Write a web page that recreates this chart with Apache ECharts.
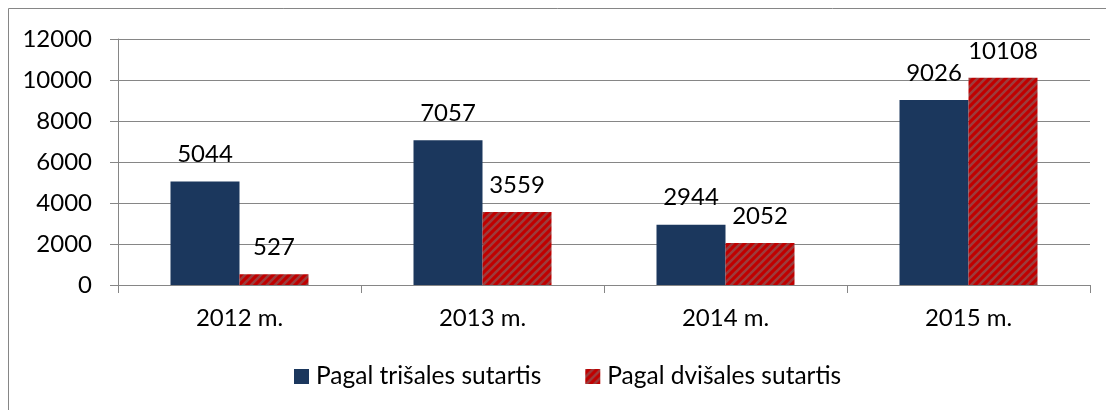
<!DOCTYPE html>
<html>
<head>
<meta charset="utf-8">
<script src="https://cdn.jsdelivr.net/npm/echarts@6/dist/echarts.min.js"></script>
<style>
html,body{margin:0;padding:0;background:#fff;}
#chart{width:1106px;height:410px;}
</style>
</head>
<body>
<div id="chart"></div>
<script>
const categories = ['2012 m.', '2013 m.', '2014 m.', '2015 m.'];
const seriesNames = ['Pagal trišales sutartis', 'Pagal dvišales sutartis'];
const trisales = [5044, 7057, 2944, 9026];
const dvisales = [527, 3559, 2052, 10108];
const yTicks = { min: 0, max: 12000, interval: 2000 };

function stripePattern() {
  const c = document.createElement('canvas');
  c.width = 8; c.height = 8;
  const g = c.getContext('2d');
  g.fillStyle = '#C00000';
  g.fillRect(0, 0, 8, 8);
  g.strokeStyle = '#9C3C3C';
  g.lineWidth = 2.6;
  g.beginPath();
  g.moveTo(-1, 9); g.lineTo(9, -1);
  g.moveTo(-5, 5); g.lineTo(5, -5);
  g.moveTo(3, 13); g.lineTo(13, 3);
  g.stroke();
  return c;
}

const FONT = 'Lato';
const FS = 24;
const chart = echarts.init(document.getElementById('chart'), null, { renderer: 'canvas' });
const pattern = { image: stripePattern(), repeat: 'repeat' };

chart.setOption({
  animation: false,
  backgroundColor: '#fff',
  textStyle: { fontFamily: FONT },
  graphic: [{
    type: 'rect',
    shape: { x: 8.5, y: 8.5, width: 1300, height: 600 },
    style: { fill: 'none', stroke: '#868686', lineWidth: 1 },
    silent: true
  }],
  grid: { left: 118, right: 16, top: 39, bottom: 125, containLabel: false },
  legend: {
    left: 294,
    top: 364,
    padding: 0,
    itemWidth: 15,
    itemHeight: 15,
    itemGap: 44,
    icon: 'rect',
    textStyle: { fontFamily: FONT, fontSize: 24.5, color: '#000', padding: [0, 0, 0, 2] },
    data: seriesNames
  },
  xAxis: {
    type: 'category',
    data: categories,
    axisLine: { show: true, lineStyle: { color: '#868686', width: 1 } },
    axisTick: { show: true, length: 8, lineStyle: { color: '#868686' } },
    axisLabel: { fontFamily: FONT, fontSize: FS, color: '#000', margin: 21 }
  },
  yAxis: {
    type: 'value',
    min: yTicks.min,
    max: yTicks.max,
    interval: yTicks.interval,
    axisLine: { show: true, lineStyle: { color: '#868686', width: 1 } },
    axisTick: { show: true, length: 8, lineStyle: { color: '#868686' } },
    splitLine: { show: true, lineStyle: { color: '#868686', width: 1 } },
    axisLabel: { fontFamily: FONT, fontSize: FS, color: '#000', margin: 26, formatter: v => String(v) }
  },
  series: [
    {
      name: seriesNames[0],
      type: 'bar',
      data: trisales,
      barWidth: 69,
      barGap: '0%',
      itemStyle: { color: '#1B375D' },
      label: { show: true, position: 'top', distance: 15, fontFamily: FONT, fontSize: FS, color: '#000' }
    },
    {
      name: seriesNames[1],
      type: 'bar',
      data: dvisales,
      barWidth: 69,
      barGap: '0%',
      itemStyle: { color: pattern },
      label: { show: true, position: 'top', distance: 15, fontFamily: FONT, fontSize: FS, color: '#000' }
    }
  ]
});
</script>
</body>
</html>
